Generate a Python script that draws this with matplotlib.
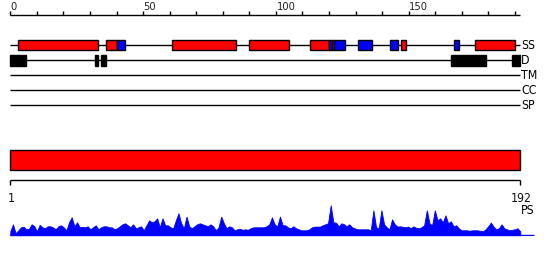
import numpy as np
import matplotlib
matplotlib.use("Agg")
import matplotlib.pyplot as plt

# ---------------- data ----------------
seq_len = 192
ruler_major = [0, 50, 100, 150]
ruler_minor_step = 10

ss_helix = [(3, 33), (36, 40), (61, 85), (90, 105), (113, 120), (121, 122),
            (147, 149), (175, 190)]
ss_strand = [(40, 43), (120, 121), (122, 126), (131, 136), (143, 146), (167, 169)]
disorder = [(0, 6), (32, 33), (34, 36), (166, 179), (189, 192)]
tm_regions = []
cc_regions = []
sp_regions = []
row_labels = ["SS", "D", "TM", "CC", "SP"]

domain_bar = [(0, 192)]
bottom_tick_labels = ["1", "192"]

ps_profile = [
    4, 11, 2, 5, 8, 8.5, 6, 6.5, 11, 9, 4, 10.5, 8, 7, 9, 9, 8, 6, 9, 10,
    8, 5, 13, 18, 9, 13, 8, 8.5, 8, 9, 6, 8, 10, 6, 8, 9, 9, 8, 8, 6,
    7, 9, 11, 12, 10, 8, 11, 7,
    8, 9, 5, 10, 15, 13, 14, 17, 8, 17, 10, 10, 8, 7, 15, 22, 12, 7, 18.7, 9,
    7, 9, 11, 12, 11, 10, 9, 11, 9, 5, 8, 18.7, 12, 7, 9, 8, 5, 6, 6.5, 5.5,
    6, 5.5, 7, 8, 8, 8, 8, 8,
    9, 11, 18, 11, 9, 18.7, 10, 10, 8, 7, 9, 7, 6, 5, 5, 5, 6, 8, 8.7, 8.7,
    8.7, 10, 11, 12, 30, 13, 12.7, 9, 12, 11, 9, 11, 8, 7, 6, 6, 6, 6, 6, 5,
    25, 8, 7, 25, 11, 8, 6, 16,
    11, 8.7, 9, 8.5, 8, 8.7, 7, 9, 7.5, 7, 8, 10, 25, 12, 10, 25, 15, 17, 13, 20,
    12, 14, 9, 10, 7, 5, 5, 5, 4.5, 5, 5, 5, 4.5, 4, 6, 9, 12.7, 8.7, 6, 7,
    11, 7, 6, 5, 5.5, 6, 7, 4,
]

# ---------------- layout ----------------
W, H = 550, 260
x0_px, px_per_res = 10.3, 2.656
xlim = (-x0_px / px_per_res, (W - x0_px) / px_per_res)

RED, BLUE, BLACK = "#ff0000", "#0000ff", "#000000"
FONT = dict(family="DejaVu Sans", fontstretch="condensed")

fig = plt.figure(figsize=(W / 100, H / 100), dpi=100)
ax = fig.add_axes([0, 0, 1, 1])
ax.set_xlim(*xlim)
ax.set_ylim(H, 0)
ax.axis("off")

# top ruler
ruler_y = 15
ax.hlines(ruler_y, 0, seq_len, color=BLACK, lw=1)
ticks = np.arange(0, seq_len, ruler_minor_step)
ax.vlines(ticks, ruler_y - 4, ruler_y, color=BLACK, lw=1)
for t in ruler_major:
    ax.text(t + 0.2, 9.6, str(t), ha="left", va="baseline", fontsize=8,
            color="#222222", **FONT)

# feature rows
row_y = [45, 60.3, 75.3, 90, 105.3]
box_h = 10
for y, lab in zip(row_y, row_labels):
    ax.hlines(y, 0, seq_len, color=BLACK, lw=1, zorder=1)
    ax.text(seq_len + 0.3, y + 0.3, lab, ha="left", va="center", fontsize=8.8,
            color=BLACK, **FONT)


def boxes(regions, y, h, color):
    if not regions:
        return
    lefts = [a for a, b in regions]
    widths = [b - a for a, b in regions]
    ax.barh([y] * len(regions), widths, left=lefts, height=h, color=color,
            edgecolor=BLACK, linewidth=1, zorder=2)


boxes(ss_helix, row_y[0], box_h, RED)
boxes(ss_strand, row_y[0], box_h, BLUE)
boxes(disorder, row_y[1], 10.6, BLACK)
boxes(tm_regions, row_y[2], box_h, BLACK)
boxes(cc_regions, row_y[3], box_h, BLACK)
boxes(sp_regions, row_y[4], box_h, BLACK)

# domain bar
boxes(domain_bar, 160.2, 20.3, RED)

# bottom ruler
by = 180.3
ax.hlines(by, 0, seq_len, color=BLACK, lw=1)
ax.vlines([0, seq_len], by, by + 4.7, color=BLACK, lw=1)
for pos, lab in zip([0, seq_len], bottom_tick_labels):
    ax.text(pos + 0.3, 201.5, lab, ha="center", va="baseline", fontsize=8.8,
            color="#111111", **FONT)
ax.text(seq_len + 0.4, 210.5, "PS", ha="left", va="center", fontsize=8.8,
        color=BLACK, **FONT)

# PS profile
base_px = 235.3
prof_h = 40
pax = fig.add_axes([0, (H - base_px - 0.5) / H, 1, prof_h / H])
pax.set_xlim(*xlim)
pax.set_ylim(-0.5, prof_h - 0.5)
pax.axis("off")
xs = np.linspace(0, seq_len, len(ps_profile))
vals = np.array(ps_profile, dtype=float)
pax.fill_between(xs, 0, vals, color=BLUE, lw=0.6, edgecolor=BLUE)
pax.hlines(0, 0, (533.7 - x0_px) / px_per_res, color=BLUE, lw=1)

fig.savefig("out.png", dpi=100)
